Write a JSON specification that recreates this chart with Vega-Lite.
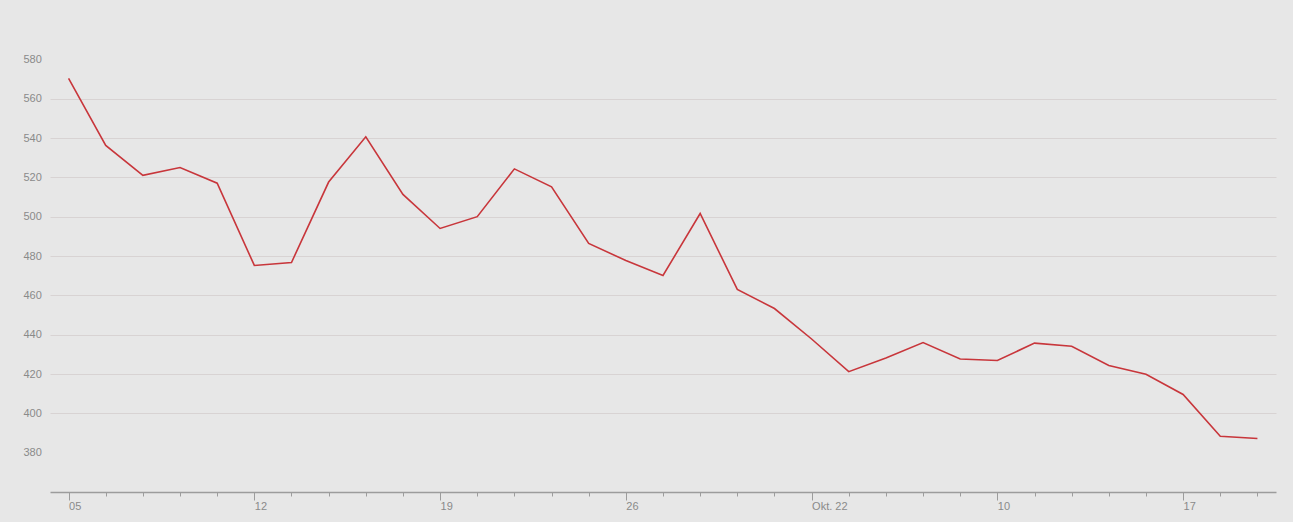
{
  "$schema": "https://vega.github.io/schema/vega-lite/v6.json",
  "width": 1226,
  "height": 472,
  "autosize": "none",
  "padding": {"left": 50, "top": 20, "right": 17, "bottom": 30},
  "background": "#e7e7e7",
  "config": {
    "view": {"stroke": null},
    "font": "Liberation Sans"
  },
  "data": {
    "values": [
      {"date": "2022-09-05", "price": 570.3},
      {"date": "2022-09-06", "price": 536.2},
      {"date": "2022-09-07", "price": 521.0},
      {"date": "2022-09-08", "price": 525.0},
      {"date": "2022-09-09", "price": 517.0},
      {"date": "2022-09-12", "price": 475.2},
      {"date": "2022-09-13", "price": 476.7},
      {"date": "2022-09-14", "price": 517.6},
      {"date": "2022-09-15", "price": 540.6},
      {"date": "2022-09-16", "price": 511.3},
      {"date": "2022-09-19", "price": 494.0},
      {"date": "2022-09-20", "price": 500.0},
      {"date": "2022-09-21", "price": 524.3},
      {"date": "2022-09-22", "price": 515.2},
      {"date": "2022-09-23", "price": 486.4},
      {"date": "2022-09-26", "price": 477.7},
      {"date": "2022-09-27", "price": 470.1},
      {"date": "2022-09-28", "price": 501.6},
      {"date": "2022-09-29", "price": 463.0},
      {"date": "2022-09-30", "price": 453.3},
      {"date": "2022-10-03", "price": 437.8},
      {"date": "2022-10-04", "price": 421.2},
      {"date": "2022-10-05", "price": 428.1},
      {"date": "2022-10-06", "price": 436.0},
      {"date": "2022-10-07", "price": 427.6},
      {"date": "2022-10-10", "price": 426.9},
      {"date": "2022-10-11", "price": 435.7},
      {"date": "2022-10-12", "price": 434.1},
      {"date": "2022-10-13", "price": 424.3},
      {"date": "2022-10-14", "price": 419.9},
      {"date": "2022-10-17", "price": 409.6},
      {"date": "2022-10-18", "price": 388.3},
      {"date": "2022-10-19", "price": 387.2}
    ]
  },
  "mark": {"type": "line", "color": "#c8363b", "strokeWidth": 1.6, "interpolate": "linear"},
  "encoding": {
    "x": {
      "field": "date",
      "type": "ordinal",
      "sort": null,
      "scale": {"type": "point", "padding": 0.5},
      "axis": {
        "title": null,
        "grid": false,
        "domainColor": "#9c9c9c",
        "domainWidth": 1.5,
        "tickColor": "#9c9c9c",
        "tickWidth": 1,
        "tickSize": {
          "condition": {"test": "indexof(['2022-09-05','2022-09-12','2022-09-19','2022-09-26','2022-10-03','2022-10-10','2022-10-17'], datum.value) >= 0", "value": 8},
          "value": 4
        },
        "labelAngle": 0,
        "labelAlign": "left",
        "labelDx": 2,
        "labelPadding": 0,
        "labelFontSize": 11,
        "labelColor": "#8a8a8a",
        "labelOverlap": false,
        "labelExpr": "datum.value == '2022-09-05' ? '05' : datum.value == '2022-09-12' ? '12' : datum.value == '2022-09-19' ? '19' : datum.value == '2022-09-26' ? '26' : datum.value == '2022-10-03' ? 'Okt. 22' : datum.value == '2022-10-10' ? '10' : datum.value == '2022-10-17' ? '17' : ''"
      }
    },
    "y": {
      "field": "price",
      "type": "quantitative",
      "scale": {"domain": [360, 600], "nice": false, "zero": false},
      "axis": {
        "title": null,
        "values": [380, 400, 420, 440, 460, 480, 500, 520, 540, 560, 580],
        "domain": false,
        "ticks": false,
        "tickSize": 0,
        "labelAlign": "left",
        "labelPadding": 27,
        "labelFontSize": 11,
        "labelColor": "#8a8a8a",
        "grid": true,
        "gridColor": "#d8d3d3",
        "gridWidth": 1,
        "gridOpacity": {"condition": {"test": "datum.value >= 400 && datum.value <= 560", "value": 1}, "value": 0}
      }
    }
  }
}
